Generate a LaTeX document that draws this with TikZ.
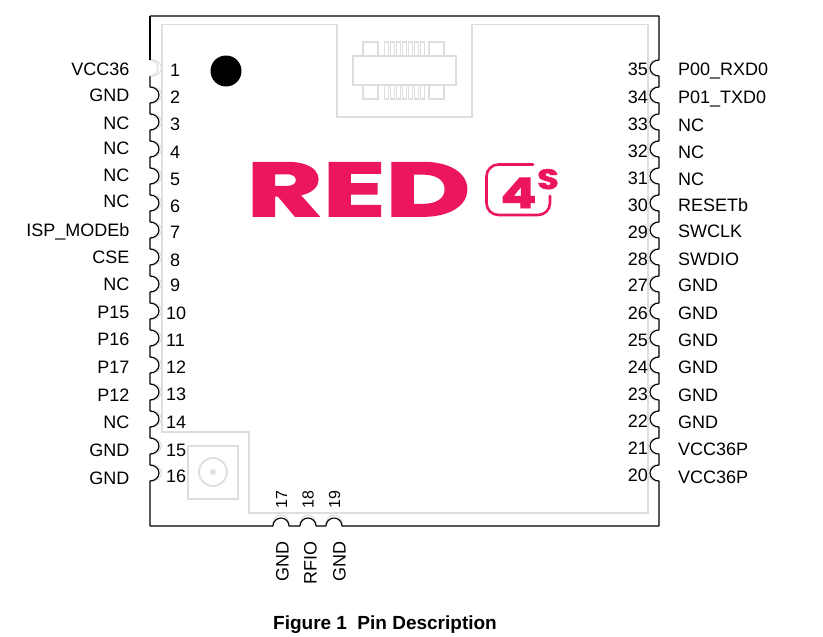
\documentclass[tikz,border=0pt]{standalone}
\usepackage{fontspec}
\setmainfont{Liberation Sans}
\newfontfamily\logofont[FakeBold=2.2]{Poppins}
\definecolor{pinkred}{HTML}{EC1560}
\definecolor{lightline}{HTML}{DEDEDE}
\tikzset{
  outline/.style={draw=black,line width=1.15pt},
  silk/.style={draw=lightline,line width=1.6pt},
  notch/.style={draw=lightline,line width=1.2pt},
  pintext/.style={font=\fontsize{18}{20}\selectfont,inner sep=0pt},
  vnum/.style={font=\fontsize{16}{18}\selectfont,inner sep=0pt,rotate=90,anchor=base west},
  logotext/.style={font=\logofont\bfseries\fontsize{76}{80}\selectfont,text=pinkred,inner sep=0pt}
}
\begin{document}
\begin{tikzpicture}[x=1pt,y=-1pt]
\useasboundingbox (0,0) rectangle (823,637);
\fill[white] (0,0) rectangle (823,637);
% silk-screen outline
\draw[silk] (161.7,432) -- (161.7,24.3) -- (337,24.3) -- (337,117) -- (472,117) -- (472,24.3) -- (648,24.3) -- (648,513) -- (249,513) -- (249,432) -- cycle;
% board connector
\draw[silk] (353,56) rectangle (456,85);
\foreach \yy/\yh in {42/56,85/99} {
  \draw[silk,line width=1.3pt] (363,\yy) rectangle (378,\yh);
  \draw[silk,line width=1.3pt] (429,\yy) rectangle (444,\yh);
  \foreach \xx in {384.5,390.5,396.5,402.5,408.5,414.5,420.5}
    \draw[silk,line width=1.1pt] (\xx,\yy) rectangle ++(4,\yh-\yy);
}
% antenna connector
\draw[silk,line width=2.2pt] (188,446) rectangle (238,499);
\draw[silk,line width=1.8pt] (213,472) circle[radius=14];
\fill[lightline] (213,472) circle[radius=3];
% pin one mark
\fill[black] (226,71) circle[radius=15.5];
% light arcs beside the castellations
\foreach \i in {0,...,15} {
  \pgfmathsetmacro{\py}{68+27*\i}
  \draw[notch] (150,\py-8.5) arc[start angle=-90,end angle=90,x radius=11.5,y radius=8.5];
  \draw[notch] (659,\py-8.5) arc[start angle=-90,end angle=-270,x radius=11.5,y radius=8.5];
}
\foreach \px in {281,308,334}
  \draw[notch] (\px-8.5,526) arc[start angle=180,end angle=360,x radius=8.5,y radius=11];
% board outline with castellations
\draw[outline,line join=round] (150,16) -- (659,16)
  foreach \i in {0,...,15} {
    -- ({659},{68+27*\i-8}) arc[start angle=-90,end angle=-270,x radius=9,y radius=8]
  } -- (659,526)
  -- (342,526) arc[start angle=0,end angle=-180,radius=8]
  -- (316,526) arc[start angle=0,end angle=-180,radius=8]
  -- (289,526) arc[start angle=0,end angle=-180,radius=8]
  -- (150,526)
  foreach \i in {15,14,...,1} {
    -- ({150},{68+27*\i+8}) arc[start angle=90,end angle=-90,x radius=9,y radius=8]
  } -- (150,76);
% pin 1 castellation is drawn pale
\draw[draw=lightline,line width=1.2pt] (150,60) arc[start angle=-90,end angle=90,x radius=8,y radius=8];
\draw[outline] (150,60) -- (150,16);
% left side labels and numbers
\foreach \n/\t/\ty/\ny in {1/VCC36/69/70,2/GND/95/97,3/NC/123/124,4/NC/148/152,5/NC/175/179,6/NC/201/206,7/ISP\_MODEb/230/232,8/CSE/257/260,9/NC/284/285,10/P15/312/313,11/P16/339/340,12/P17/367/367,13/P12/395/394,14/NC/422/422,15/GND/450/450,16/GND/478/476} {
  \node[pintext,anchor=base east] (L\n) at (129.5,\ty+6.5) {\t};
  \ifnum\n<10
    \node[pintext,anchor=base west] (N\n) at (170,\ny+6.5) {\n};
  \else
    \node[pintext,anchor=base west] (N\n) at (166,\ny+6.5) {\n};
  \fi
}
% right side labels and numbers
\foreach \n/\t/\ty/\ny in {35/P00\_RXD0/69/69,34/P01\_TXD0/97/97,33/NC/125/124,32/NC/152/151,31/NC/179/178,30/RESETb/205/205,29/SWCLK/231/232,28/SWDIO/259/259,27/GND/285/285,26/GND/313/313,25/GND/340/340,24/GND/367/367,23/GND/395/394,22/GND/422/421,21/VCC36P/449/448,20/VCC36P/477/475} {
  \node[pintext,anchor=base west] (R\n) at (678,\ty+6.5) {\t};
  \node[pintext,anchor=base east] (M\n) at (648,\ny+6.5) {\n};
}
% bottom pins
\foreach \n/\px/\t/\tx/\by in {17/287/GND/288.5/582,18/313.5/RFIO/316.5/585,19/340/GND/345.5/582} {
  \node[vnum] (B\n) at (\px,509) {\n};
  \node[pintext,rotate=90,anchor=base west] (T\n) at (\tx,\by) {\t};
}
% logo
\node[logotext,anchor=base west,xscale=1.53,yscale=1] (red) at (246.5,216) {RED};
\draw[pinkred,line width=2.6pt,line cap=round,rounded corners=12pt] (533,164.5) -- (486.5,164.5) -- (486.5,215) -- (550,215) -- (550,196);
\node[font=\logofont\bfseries\fontsize{42}{44}\selectfont,text=pinkred,inner sep=0pt,anchor=base,xscale=1.25] (four) at (518.5,208) {4};
\node[font=\logofont\bfseries\fontsize{28}{30}\selectfont,text=pinkred,inner sep=0pt,anchor=base,xscale=1.25] (ess) at (548,189) {S};
% caption
\node[font=\bfseries\fontsize{19}{22}\selectfont,inner sep=0pt,anchor=base] (cap) at (385,629.5) {Figure 1\hspace{0.55em}Pin Description};
\end{tikzpicture}
\end{document}
